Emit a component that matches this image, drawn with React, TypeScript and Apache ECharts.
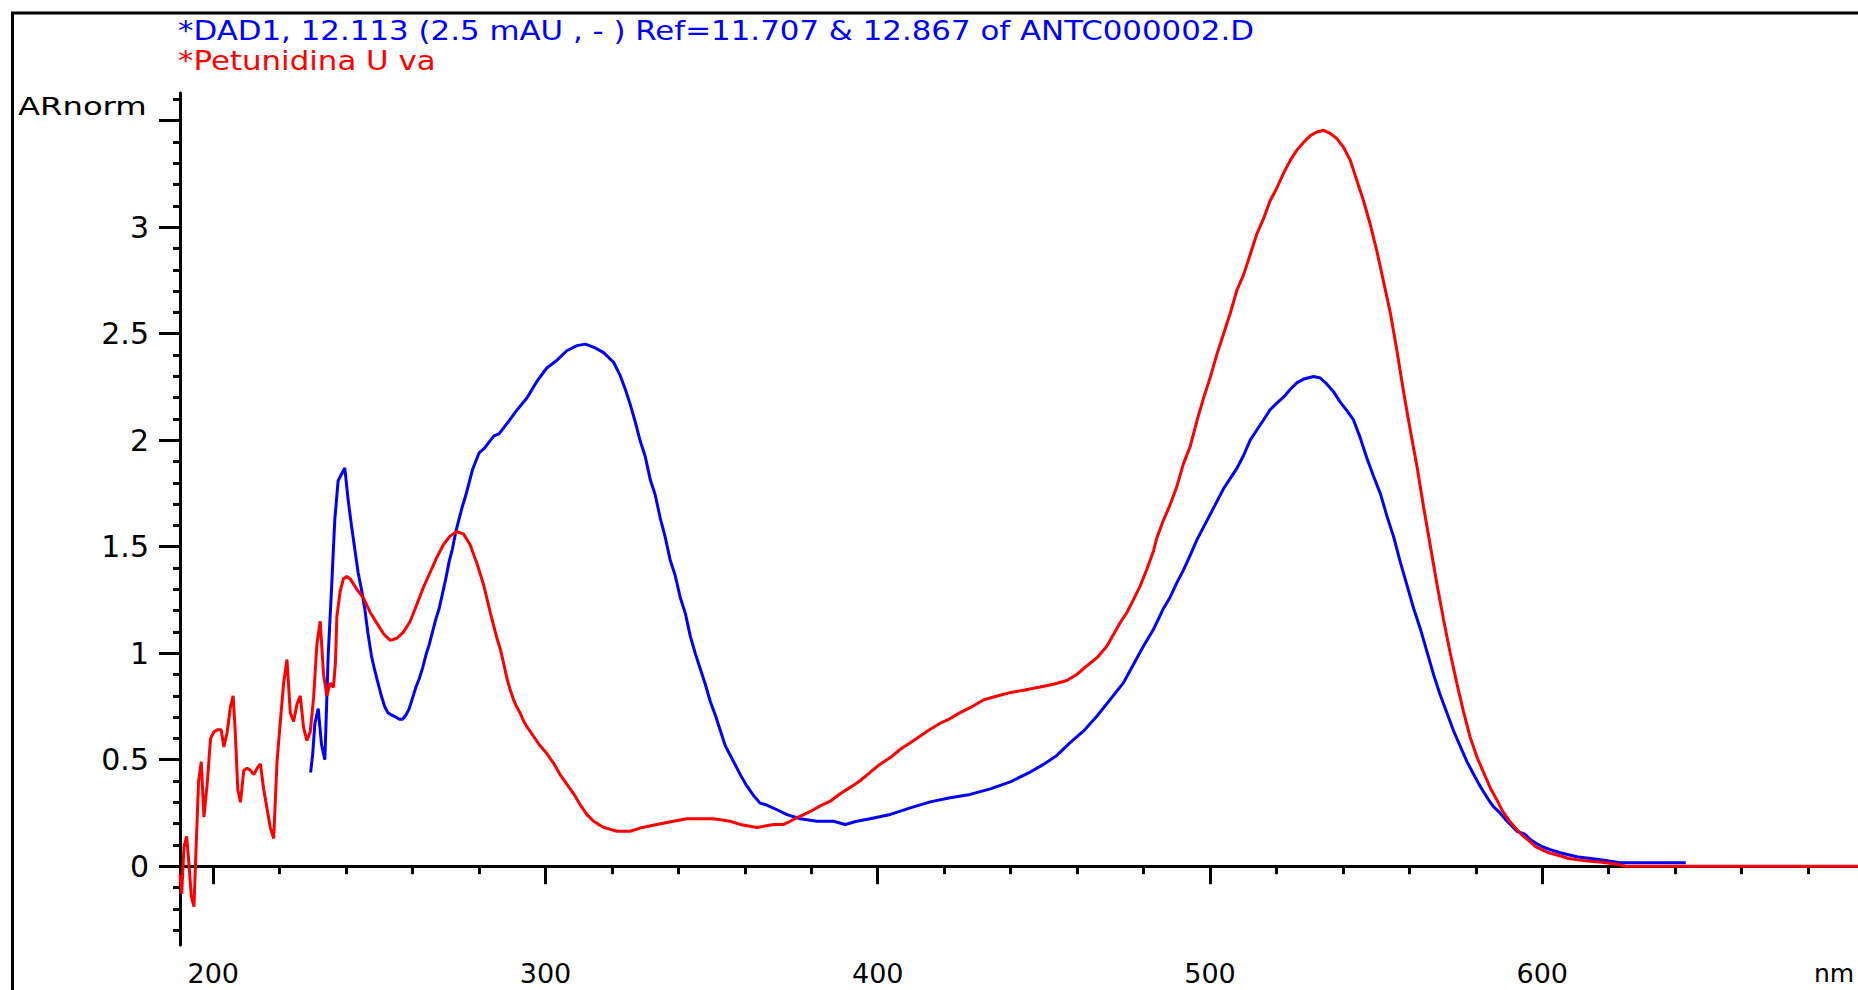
import React, { useEffect, useRef } from "react";
import * as echarts from "echarts";

// ---- texts ----
const titleDad = "*DAD1, 12.113 (2.5 mAU , - ) Ref=11.707 & 12.867 of ANTC000002.D";
const titleRed = "*Petunidina U va";
const yAxisName = "ARnorm";
const xAxisName = "nm";

// ---- axis ticks / labels ----
const xMin = 190;
const xMax = 700;
const yMin = -0.37;
const yMax = 3.63;
const xMajorTicks = [200, 300, 400, 500, 600, 700];
const xLabels = [200, 300, 400, 500, 600];
const xMinorTicks = [220, 240, 260, 280, 320, 340, 360, 380, 420, 440, 460, 480, 520, 540, 560, 580, 620, 640, 660, 680];
const yMajorTicks = [0, 0.5, 1, 1.5, 2, 2.5, 3, 3.5];
const yLabels = [0, 0.5, 1, 1.5, 2, 2.5, 3];
const yMinorTicks = [-0.3, -0.2, -0.1, 0.1, 0.2, 0.3, 0.4, 0.6, 0.7, 0.8, 0.9, 1.1, 1.2, 1.3, 1.4, 1.6, 1.7, 1.8, 1.9, 2.1, 2.2, 2.3, 2.4, 2.6, 2.7, 2.8, 2.9, 3.1, 3.2, 3.3, 3.4, 3.6];

// ---- DAD1 spectrum (blue) ----
const dadNm = [229.3, 229.9, 230.6, 231.6, 232.6, 233.6, 234.6, 235.6, 236.6, 237.6, 238.6, 239.6, 240.6, 241.6, 242.6, 243.6, 244.6, 245.6, 246.6, 247.6, 248.6, 249.6, 250.6, 251.6, 252.6, 253.6, 255, 256, 257, 258, 259, 260, 261, 262, 263, 264, 265, 266, 267, 268, 269, 270, 271, 272, 273, 274, 275, 276, 277, 278, 279, 280, 281.5, 282.5, 284.5, 286, 288.4, 291.4, 294.4, 297.4, 300.4, 303.4, 306.4, 309.5, 312, 315, 317.5, 320.5, 322.5, 324, 325.5, 327, 328.5, 330, 331.5, 333, 334.5, 336, 337.5, 339, 340.6, 342.1, 343.6, 345.1, 346.6, 348.1, 349.6, 351.1, 352.6, 354.1, 355.6, 357.1, 358.6, 360.6, 362.6, 364.6, 366.6, 369.7, 372.7, 376.7, 381.7, 386.7, 390.2, 393.7, 397.7, 403.8, 409.8, 415.8, 421.8, 427.8, 433.9, 439.9, 445.9, 449.9, 453.9, 457.9, 461.9, 466, 470, 474, 477, 480, 483, 486, 488, 490, 492, 494.1, 496.1, 498.1, 500.1, 502.1, 504.1, 506.1, 508.1, 510.1, 512.1, 514.1, 516.1, 518.1, 520.1, 522.2, 524.2, 526.2, 528.2, 531.2, 533.2, 535.2, 537.2, 539.2, 541.2, 543.2, 545.2, 547.2, 549.2, 551.3, 553.3, 555.3, 557.3, 559.3, 561.3, 563.3, 565.3, 567.3, 569.3, 571.3, 573.3, 575.3, 577.3, 579.3, 581.4, 583.8, 585.3, 587.3, 588.9, 590.9, 592.4, 594.9, 596.4, 598.4, 600.4, 602.4, 605.4, 610.4, 617.5, 623.5, 643.2];
const dadAbs = [0.44, 0.52, 0.67, 0.74, 0.57, 0.5, 0.99, 1.3, 1.63, 1.81, 1.84, 1.87, 1.72, 1.6, 1.49, 1.38, 1.3, 1.21, 1.09, 0.99, 0.92, 0.86, 0.8, 0.75, 0.72, 0.71, 0.7, 0.69, 0.69, 0.71, 0.74, 0.79, 0.84, 0.88, 0.93, 0.99, 1.04, 1.1, 1.16, 1.21, 1.28, 1.35, 1.43, 1.49, 1.57, 1.63, 1.69, 1.74, 1.8, 1.86, 1.9, 1.94, 1.96, 1.98, 2.02, 2.03, 2.078, 2.141, 2.198, 2.276, 2.339, 2.375, 2.42, 2.444, 2.451, 2.433, 2.411, 2.366, 2.303, 2.24, 2.168, 2.087, 1.997, 1.925, 1.817, 1.745, 1.637, 1.547, 1.439, 1.367, 1.259, 1.187, 1.079, 0.998, 0.926, 0.854, 0.773, 0.71, 0.638, 0.566, 0.521, 0.476, 0.431, 0.377, 0.332, 0.296, 0.287, 0.265, 0.242, 0.223, 0.211, 0.211, 0.196, 0.211, 0.223, 0.243, 0.274, 0.302, 0.321, 0.337, 0.363, 0.396, 0.442, 0.478, 0.52, 0.58, 0.634, 0.705, 0.783, 0.862, 0.948, 1.034, 1.112, 1.21, 1.263, 1.33, 1.39, 1.462, 1.533, 1.593, 1.653, 1.713, 1.773, 1.821, 1.868, 1.928, 2.0, 2.048, 2.095, 2.143, 2.174, 2.203, 2.239, 2.27, 2.287, 2.299, 2.292, 2.263, 2.227, 2.179, 2.139, 2.095, 2.012, 1.916, 1.832, 1.748, 1.641, 1.545, 1.426, 1.318, 1.21, 1.115, 1.007, 0.899, 0.804, 0.72, 0.636, 0.564, 0.492, 0.433, 0.373, 0.313, 0.28, 0.25, 0.22, 0.188, 0.164, 0.149, 0.125, 0.105, 0.089, 0.078, 0.063, 0.044, 0.03, 0.016, 0.016];

// ---- Petunidina Uva library spectrum (red) ----
const petNm = [190, 190.5, 191.2, 192, 192.6, 193.4, 194.2, 194.8, 195.6, 196.4, 197.2, 198.2, 199.2, 200.2, 201.2, 202.4, 203.2, 204.2, 205.2, 206, 206.6, 207.4, 208.2, 209.2, 210.2, 211.2, 212.2, 213.2, 214.2, 215.2, 216.2, 217.2, 218.2, 219.2, 220.2, 221.2, 222.2, 223.2, 224.2, 225.2, 226.2, 227.2, 228.2, 229.2, 230.2, 231.2, 232.2, 233.2, 234.2, 235.2, 236.2, 236.8, 237.2, 238.2, 239.2, 240.2, 241.2, 243.2, 245.2, 247.3, 249.3, 251.3, 253.3, 255.3, 257.3, 259.3, 261.3, 263.3, 265.3, 267.3, 269.3, 271.3, 273.3, 275.3, 277.3, 279.4, 281.4, 283.4, 285.4, 286.4, 287.4, 288.4, 289.4, 290.4, 291.4, 292.4, 293.4, 294.4, 296.4, 298.4, 300.4, 302.4, 304.4, 306.4, 308.5, 310.5, 312.5, 314.5, 317.5, 321.5, 325.5, 328.5, 333.5, 338.5, 342.6, 350.6, 355.6, 358.6, 363.6, 368.7, 371.7, 373.7, 375.7, 377.7, 379.7, 382.7, 385.7, 388.7, 391.7, 394.7, 397.7, 400.7, 403.8, 406.8, 409.8, 412.8, 415.8, 418.8, 421.8, 424.8, 427.8, 431.8, 435.9, 439.9, 443.9, 448.9, 452.9, 456.9, 459.9, 462.9, 466, 469, 471, 473, 475, 477, 479, 481, 483, 484, 486, 488, 490, 492, 494.1, 496.1, 498.1, 500.1, 502.1, 504.1, 506.1, 508.1, 510.1, 512.1, 514.1, 516.1, 518.1, 520.1, 522.2, 524.2, 526.2, 528.2, 530.2, 532.2, 534.2, 536.2, 538.2, 540.2, 542.2, 544.2, 546.2, 548.2, 550.3, 552.3, 554.3, 556.3, 558.3, 560.3, 562.3, 564.3, 566.3, 568.3, 570.3, 572.3, 574.3, 576.3, 578.3, 580.4, 582.4, 584.4, 586.4, 588, 590, 592, 594, 596, 598, 600, 602, 605, 608, 613, 618, 623, 625, 700];
const petAbs = [-0.04, -0.13, 0.09, 0.14, 0.03, -0.14, -0.19, 0.07, 0.4, 0.49, 0.23, 0.39, 0.6, 0.63, 0.64, 0.64, 0.56, 0.63, 0.75, 0.8, 0.64, 0.36, 0.3, 0.45, 0.46, 0.45, 0.43, 0.46, 0.48, 0.36, 0.27, 0.18, 0.13, 0.49, 0.68, 0.86, 0.97, 0.72, 0.68, 0.76, 0.8, 0.65, 0.59, 0.63, 0.79, 1.04, 1.15, 0.9, 0.8, 0.86, 0.84, 0.96, 1.17, 1.29, 1.35, 1.36, 1.35, 1.3, 1.26, 1.19, 1.14, 1.09, 1.06, 1.07, 1.1, 1.15, 1.23, 1.31, 1.38, 1.45, 1.51, 1.55, 1.57, 1.56, 1.51, 1.42, 1.32, 1.19, 1.07, 1.02, 0.953, 0.881, 0.827, 0.781, 0.746, 0.718, 0.682, 0.655, 0.61, 0.565, 0.529, 0.484, 0.43, 0.385, 0.34, 0.287, 0.242, 0.211, 0.182, 0.164, 0.164, 0.179, 0.196, 0.211, 0.223, 0.223, 0.211, 0.196, 0.182, 0.196, 0.196, 0.211, 0.228, 0.242, 0.257, 0.283, 0.305, 0.34, 0.37, 0.401, 0.44, 0.479, 0.51, 0.549, 0.58, 0.611, 0.643, 0.671, 0.693, 0.721, 0.744, 0.78, 0.799, 0.815, 0.826, 0.841, 0.854, 0.872, 0.9, 0.94, 0.979, 1.034, 1.089, 1.144, 1.191, 1.253, 1.316, 1.394, 1.48, 1.541, 1.625, 1.697, 1.781, 1.889, 1.973, 2.093, 2.2, 2.296, 2.404, 2.5, 2.596, 2.704, 2.776, 2.872, 2.968, 3.04, 3.124, 3.183, 3.255, 3.315, 3.363, 3.399, 3.43, 3.447, 3.455, 3.44, 3.416, 3.375, 3.315, 3.219, 3.124, 3.015, 2.883, 2.74, 2.596, 2.416, 2.224, 2.045, 1.877, 1.685, 1.505, 1.325, 1.157, 1.001, 0.858, 0.726, 0.606, 0.51, 0.438, 0.366, 0.31, 0.26, 0.215, 0.178, 0.145, 0.12, 0.092, 0.077, 0.063, 0.05, 0.036, 0.025, 0.018, 0.008, 0, 0];

const zip = (xs: number[], ys: number[]) => xs.map((x, i) => [x, ys[i]]);

const FONT = '"DejaVu Sans", "Liberation Sans", Arial, sans-serif';

export default function App() {
  const ref = useRef<HTMLDivElement>(null);
  useEffect(() => {
    if (!ref.current) return;
    const chart = echarts.init(ref.current, null, { renderer: "svg" });
    const axisLine = { show: true, lineStyle: { color: "#000", width: 3 } };
    chart.setOption({
      animation: false,
      backgroundColor: "#ffffff",
      grid: { left: 180, right: 5.5, top: 93, bottom: 45, containLabel: false, outerBoundsMode: "none" },
      xAxis: [
        {
          type: "value", min: xMin, max: xMax, position: "bottom",
          axisLine,
          axisTick: { show: true, customValues: xMajorTicks, length: 18, lineStyle: { color: "#000", width: 3 } },
          axisLabel: { show: true, customValues: xLabels, margin: 15, lineHeight: 27, color: "#000", fontSize: 27, fontFamily: FONT },
          splitLine: { show: false },
        },
        {
          type: "value", min: xMin, max: xMax, position: "bottom",
          axisLine: { show: false },
          axisTick: { show: true, customValues: xMinorTicks, length: 8, lineStyle: { color: "#000", width: 3 } },
          axisLabel: { show: false },
          splitLine: { show: false },
        },
      ],
      yAxis: [
        {
          type: "value", min: yMin, max: yMax, position: "left",
          axisLine,
          axisTick: { show: true, customValues: yMajorTicks, length: 21, lineStyle: { color: "#000", width: 3 } },
          axisLabel: { show: true, customValues: yLabels, margin: 31, color: "#000", fontSize: 30, fontFamily: FONT },
          splitLine: { show: false },
        },
        {
          type: "value", min: yMin, max: yMax, position: "left",
          axisLine: { show: false },
          axisTick: { show: true, customValues: yMinorTicks, length: 7, lineStyle: { color: "#000", width: 3 } },
          axisLabel: { show: false },
          splitLine: { show: false },
        },
      ],
      series: [
        {
          name: "DAD1", type: "line", xAxisIndex: 0, yAxisIndex: 0,
          data: zip(dadNm, dadAbs), showSymbol: false, symbol: "none",
          lineStyle: { color: "#0000ff", width: 3 }, itemStyle: { color: "#0000ff" },
        },
        {
          name: "Petunidina Uva", type: "line", xAxisIndex: 0, yAxisIndex: 0,
          data: zip(petNm, petAbs), showSymbol: false, symbol: "none",
          lineStyle: { color: "#ff0000", width: 3 }, itemStyle: { color: "#ff0000" },
        },
      ],
      graphic: [
        { type: "line", shape: { x1: 11, y1: 13, x2: 1880, y2: 13 }, style: { stroke: "#000", lineWidth: 3 } },
        { type: "line", shape: { x1: 12.5, y1: 12, x2: 12.5, y2: 990 }, style: { stroke: "#000", lineWidth: 3 } },
        {
          type: "text", x: 178, y: 30.5, scaleX: 1.143,
          style: { text: titleDad, fill: "#0000ff", fontSize: 27, fontFamily: FONT, align: "left", verticalAlign: "middle" },
        },
        {
          type: "text", x: 178, y: 60.5, scaleX: 1.143,
          style: { text: titleRed, fill: "#ff0000", fontSize: 27, fontFamily: FONT, align: "left", verticalAlign: "middle" },
        },
        {
          type: "text", x: 18, y: 106, scaleX: 1.29,
          style: { text: yAxisName, fill: "#000", fontSize: 25, fontFamily: FONT, align: "left", verticalAlign: "middle" },
        },
        {
          type: "text", x: 1814, y: 973, scaleX: 1.0,
          style: { text: xAxisName, fill: "#000", fontSize: 25, fontFamily: FONT, align: "left", verticalAlign: "middle" },
        },
      ],
    });
    return () => chart.dispose();
  }, []);
  return (
    <div style={{ position: "fixed", left: 0, top: 0, width: 1858, height: 990, overflow: "hidden", background: "#fff" }}>
      <div ref={ref} style={{ width: 1880, height: 990 }} />
    </div>
  );
}
